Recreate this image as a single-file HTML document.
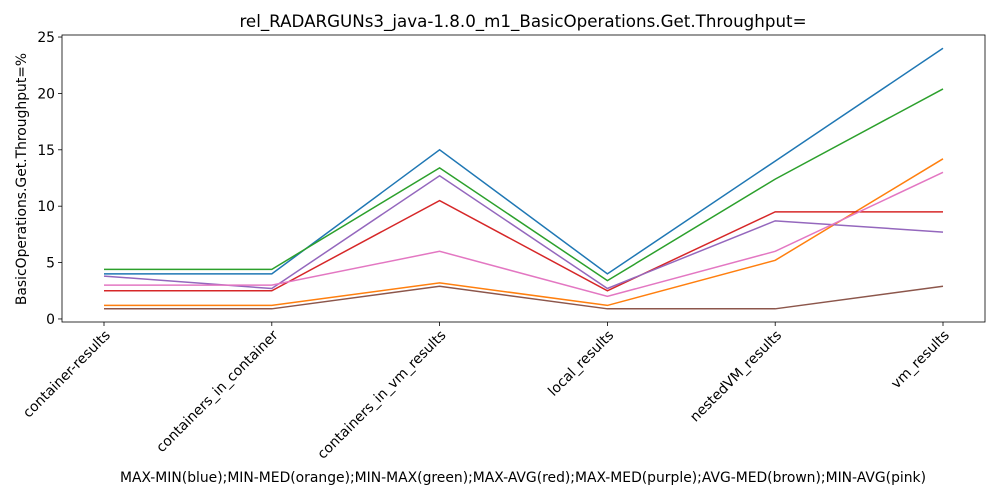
<!DOCTYPE html>
<html><head><meta charset="utf-8"><style>
body{margin:0;background:#fff;font-family:"DejaVu Sans",sans-serif;}
svg text{font-family:"DejaVu Sans",sans-serif;fill:#000;}
</style></head><body>
<svg id="chart" width="1000" height="500" xmlns="http://www.w3.org/2000/svg">
<text x="523" y="27" font-size="16.7" text-anchor="middle">rel_RADARGUNs3_java-1.8.0_m1_BasicOperations.Get.Throughput=</text>
<text transform="translate(26,179) rotate(-90)" font-size="13.9" text-anchor="middle">BasicOperations.Get.Throughput=%</text>
<text x="523" y="482" font-size="13.9" text-anchor="middle">MAX-MIN(blue);MIN-MED(orange);MIN-MAX(green);MAX-AVG(red);MAX-MED(purple);AVG-MED(brown);MIN-AVG(pink)</text>
<g id="plot"></g>
</svg>
<script>
const categories=["container-results","containers_in_container","containers_in_vm_results","local_results","nestedVM_results","vm_results"];
const yTicks=[0,5,10,15,20,25];
const seriesNames=["MAX-MIN","MIN-MED","MIN-MAX","MAX-AVG","MAX-MED","AVG-MED","MIN-AVG"];
const seriesColors=["#1f77b4","#ff7f0e","#2ca02c","#d62728","#9467bd","#8c564b","#e377c2"];
const blue=[4.0,4.0,15.0,4.0,14.0,24.0];
const orange=[1.2,1.2,3.2,1.2,5.2,14.2];
const green=[4.4,4.4,13.4,3.4,12.4,20.4];
const red=[2.5,2.5,10.5,2.5,9.5,9.5];
const purple=[3.8,2.7,12.7,2.7,8.7,7.7];
const brown=[0.9,0.9,2.9,0.9,0.9,2.9];
const pink=[3.0,3.0,6.0,2.0,6.0,13.0];
const allSeries=[blue,orange,green,red,purple,brown,pink];
const L=62,R=985,T=35,B=322,yMin=-0.27,yMax=25.18;
const x=i=>104+i*(943-104)/(categories.length-1);
const y=v=>B-(v-yMin)/(yMax-yMin)*(B-T);
const g=document.getElementById('plot');
const NS="http://www.w3.org/2000/svg";
function mk(t,a){const e=document.createElementNS(NS,t);for(const k in a)e.setAttribute(k,a[k]);g.appendChild(e);return e;}
allSeries.forEach((s,si)=>{
 const p=mk('polyline',{points:s.map((v,i)=>x(i)+','+y(v)).join(' '),fill:'none',stroke:seriesColors[si],'stroke-width':1.5});
 
 
});
const frame=mk('rect',{x:L,y:T,width:R-L,height:B-T,fill:'none',stroke:'#000','stroke-width':0.8});


yTicks.forEach(v=>{
 mk('line',{x1:L-4,x2:L,y1:y(v),y2:y(v),stroke:'#000','stroke-width':0.8});
 const t=mk('text',{x:L-7,y:y(v)+5,'font-size':13.9,'text-anchor':'end'});t.textContent=v;
 
 
});
categories.forEach((c,i)=>{
 mk('line',{x1:x(i),x2:x(i),y1:B,y2:B+4,stroke:'#000','stroke-width':0.8});
 const t=mk('text',{transform:`translate(${x(i)+7},${B+14}) rotate(-45)`,'font-size':13.9,'text-anchor':'end'});t.textContent=c;
 
 
});
</script>
</body></html>
